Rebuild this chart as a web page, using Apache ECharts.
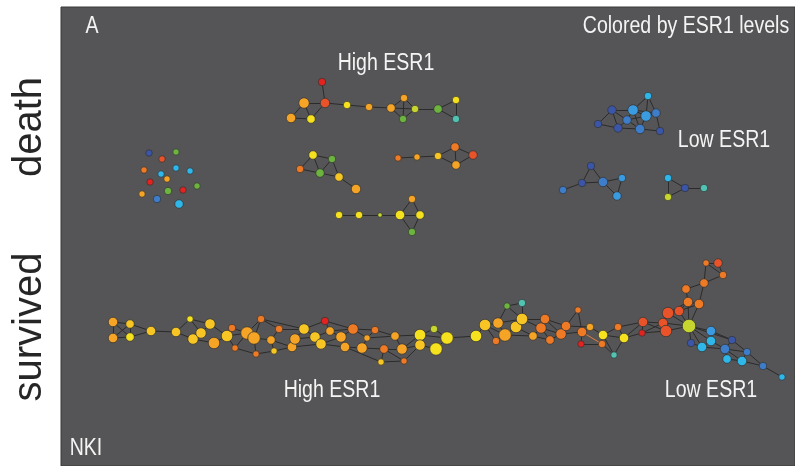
<!DOCTYPE html>
<html>
<head>
<meta charset="utf-8">
<script src="https://cdn.jsdelivr.net/npm/echarts@6/dist/echarts.min.js"></script>
<style>
  html, body { margin: 0; padding: 0; background: #fff; }
  #chart { width: 795px; height: 466px; }
</style>
</head>
<body>
<div id="chart"></div>
<script>
// ESR1 level classes, low (dark blue) -> high (red)
var levelColors = ['#3b56a9', '#3d7dca', '#3a9be0', '#2fb7ea', '#52c2b2', '#6cb33f',
  '#c7d52f', '#f6e11e', '#f7c624', '#f5a425', '#ee7a25', '#e8532a', '#e2231f'];

// each node: [x, y, weight, esr1Level]
// death: unconnected samples
var deathScatter = [
  [149, 153, 5, 0], [162, 159, 5, 11], [176, 152, 5, 5], [144, 170, 5, 10],
  [161, 174, 5, 3], [176, 168, 5, 3], [190, 171, 5, 3], [167, 179, 5, 9],
  [150, 182, 5, 12], [197, 186, 5, 5], [142, 194, 5, 9], [168, 191, 6, 5],
  [183, 190, 5, 12], [157, 199, 6, 1], [179, 204, 7, 3]
];
var deathScatterLinks = [];

// death: high ESR1 components
var deathHighA = [
  [322, 82, 6, 12], [304, 103, 9, 9], [325, 103, 8, 11], [291, 118, 8, 9],
  [311, 119, 7, 7], [347, 105, 6, 7], [369, 107, 6, 9], [391, 108, 7, 9],
  [404, 98, 6, 9], [403, 119, 6, 5], [415, 109, 6, 6], [438, 109, 7, 5],
  [456, 100, 6, 7], [456, 119, 6, 4]
];
var deathHighALinks = [[0, 2], [1, 2], [1, 3], [1, 4], [3, 4], [4, 2], [2, 5], [5, 6], [6, 7],
  [7, 8], [7, 9], [7, 10], [8, 9], [8, 10], [9, 10], [10, 11], [11, 12], [11, 13], [12, 13]];

var deathHighB = [
  [313, 155, 7, 7], [332, 159, 6, 5], [300, 169, 6, 10], [320, 173, 7, 5],
  [339, 177, 7, 8], [356, 189, 8, 9]
];
var deathHighBLinks = [[0, 1], [0, 2], [0, 3], [1, 3], [1, 4], [2, 3], [3, 4], [4, 5]];

var deathHighC = [
  [398, 158, 5, 10], [417, 157, 5, 9], [438, 156, 6, 8], [455, 147, 7, 10],
  [473, 155, 7, 11], [456, 165, 7, 9]
];
var deathHighCLinks = [[0, 1], [1, 2], [2, 3], [2, 5], [3, 4], [5, 4], [3, 5]];

var deathHighD = [
  [339, 215, 6, 7], [359, 215, 6, 7], [380, 215, 3, 6], [400, 215, 8, 7],
  [420, 215, 7, 7], [412, 199, 6, 9], [412, 232, 6, 5]
];
var deathHighDLinks = [[0, 1], [1, 2], [2, 3], [3, 5], [3, 4], [3, 6], [5, 4], [4, 6]];

// death: low ESR1 components
var deathLowA = [
  [648, 96, 6, 3], [612, 110, 7, 0], [633, 110, 9, 2], [656, 113, 7, 1],
  [646, 116, 9, 2], [627, 120, 7, 1], [598, 124, 6, 0], [618, 128, 7, 0],
  [640, 129, 8, 1], [660, 131, 6, 0]
];
var deathLowALinks = [[0, 2], [0, 3], [0, 4], [1, 2], [1, 6], [1, 7], [1, 5], [2, 5], [2, 3],
  [2, 4], [3, 4], [4, 8], [4, 5], [5, 7], [5, 8], [7, 8], [6, 7], [3, 9], [8, 9], [2, 8]];

var deathLowB = [
  [591, 166, 6, 0], [563, 190, 6, 1], [582, 183, 6, 0], [603, 182, 8, 1],
  [622, 178, 6, 2], [617, 196, 7, 2]
];
var deathLowBLinks = [[1, 2], [2, 0], [0, 3], [2, 3], [3, 4], [3, 5], [4, 5]];

var deathLowC = [[668, 178, 6, 3], [685, 188, 6, 0], [668, 197, 6, 6], [704, 188, 6, 4]];
var deathLowCLinks = [[0, 1], [0, 2], [2, 1], [1, 3]];

// survived: one long component
var survived = [
  [113, 322, 8, 9], [130, 324, 7, 8], [113, 338, 8, 9], [130, 337, 7, 7], [151, 331, 8, 8],
  [176, 332, 8, 8], [190, 319, 5, 7], [193, 339, 9, 8], [201, 333, 9, 8], [210, 324, 9, 8],
  [214, 343, 10, 9], [227, 336, 10, 8], [232, 328, 6, 10], [235, 348, 5, 10], [247, 333, 11, 9],
  [254, 338, 11, 9], [261, 319, 6, 10], [271, 340, 7, 9], [279, 329, 6, 10], [256, 354, 5, 10],
  [274, 351, 5, 8], [292, 347, 8, 9], [295, 339, 9, 9], [304, 329, 9, 8], [325, 321, 6, 12],
  [315, 337, 9, 8], [321, 344, 9, 8], [330, 331, 7, 9], [341, 337, 9, 9], [353, 329, 9, 10],
  [345, 347, 8, 9], [362, 348, 9, 9], [375, 330, 6, 10], [367, 338, 5, 9], [384, 349, 7, 10],
  [395, 336, 7, 9], [381, 362, 5, 8], [404, 361, 5, 10], [402, 349, 9, 9], [420, 335, 10, 7],
  [420, 345, 9, 8], [434, 329, 6, 6], [436, 349, 11, 7], [447, 338, 11, 7], [476, 336, 10, 7],
  [485, 325, 10, 8], [498, 323, 9, 9], [507, 306, 5, 5], [522, 303, 6, 4], [496, 341, 6, 10],
  [505, 335, 11, 9], [516, 327, 10, 8], [522, 319, 10, 8], [533, 336, 7, 9], [541, 328, 9, 10],
  [545, 319, 8, 10], [550, 340, 7, 10], [561, 334, 9, 10], [566, 326, 8, 10], [578, 310, 5, 10],
  [582, 332, 8, 10], [590, 327, 6, 9], [581, 344, 5, 12], [603, 335, 8, 7], [602, 344, 6, 10],
  [614, 355, 5, 4], [618, 327, 6, 10], [624, 338, 8, 7], [643, 322, 8, 11], [642, 333, 5, 12],
  [668, 313, 10, 11], [679, 311, 8, 11], [663, 323, 8, 11], [666, 331, 10, 11], [689, 326, 12, 6],
  [686, 289, 7, 10], [688, 302, 8, 10], [699, 304, 8, 10], [704, 283, 7, 10], [706, 263, 5, 10],
  [718, 263, 7, 11], [723, 275, 6, 10], [711, 331, 8, 2], [691, 343, 6, 0], [711, 341, 8, 3],
  [702, 347, 8, 3], [732, 340, 6, 0], [725, 349, 8, 1], [747, 352, 6, 1], [727, 359, 7, 3],
  [742, 361, 8, 3], [763, 366, 6, 1], [782, 377, 5, 3]
];
var survivedLinks = [
  [0, 1], [0, 2], [0, 3], [1, 2], [1, 3], [2, 3], [1, 4], [3, 4], [4, 5], [5, 6], [5, 7], [6, 9],
  [6, 8], [7, 8], [8, 9], [9, 11], [10, 11], [7, 10], [11, 12], [11, 13], [12, 14], [13, 14],
  [11, 14], [14, 15], [14, 16], [15, 16], [15, 17], [16, 18], [17, 18], [15, 19], [19, 20],
  [17, 20], [13, 19], [17, 21], [20, 21], [21, 22], [22, 23], [18, 23], [16, 23], [23, 24],
  [23, 25], [22, 25], [25, 26], [21, 26], [24, 27], [25, 27], [27, 28], [26, 28], [24, 29],
  [28, 29], [27, 29], [28, 30], [26, 30], [30, 31], [29, 32], [29, 33], [31, 33], [32, 33],
  [31, 34], [30, 36], [34, 36], [33, 35], [32, 35], [35, 38], [34, 38], [34, 37], [36, 37],
  [37, 40], [38, 40], [38, 39], [35, 39], [39, 41], [39, 40], [40, 42], [41, 43], [42, 43],
  [39, 43], [43, 44], [44, 45], [45, 46], [45, 49], [46, 47], [47, 48], [47, 52], [48, 52],
  [45, 50], [46, 50], [49, 50], [50, 51], [51, 52], [46, 52], [50, 53], [51, 53], [52, 54],
  [52, 55], [53, 54], [54, 56], [53, 56], [55, 57], [54, 57], [56, 57], [55, 58], [57, 58],
  [57, 60], [58, 59], [59, 60], [58, 61], [60, 61], [60, 62], [62, 64], [61, 63], [63, 64],
  [63, 65], [64, 65], [63, 66], [66, 67], [67, 65], [63, 67], [66, 68], [67, 69], [67, 68],
  [68, 69], [68, 72], [68, 73], [69, 73], [72, 73], [69, 72], [72, 70], [70, 71], [71, 74],
  [70, 74], [73, 74], [72, 74], [70, 76], [71, 76], [71, 77], [74, 76], [74, 77], [76, 77],
  [75, 76], [75, 78], [77, 78], [78, 81], [78, 79], [79, 80], [80, 81], [79, 81], [74, 82],
  [74, 83], [74, 84], [74, 85], [74, 86], [82, 84], [82, 86], [83, 85], [84, 85], [84, 87],
  [85, 87], [86, 87], [86, 88], [87, 88], [87, 89], [87, 90], [89, 90], [88, 90], [90, 91],
  [88, 91], [91, 92]
];
var orangeLinks = [[60, 64]];

var components = [
  ['ds', deathScatter, deathScatterLinks],
  ['ha', deathHighA, deathHighALinks],
  ['hb', deathHighB, deathHighBLinks],
  ['hc', deathHighC, deathHighCLinks],
  ['hd', deathHighD, deathHighDLinks],
  ['la', deathLowA, deathLowALinks],
  ['lb', deathLowB, deathLowBLinks],
  ['lc', deathLowC, deathLowCLinks],
  ['sv', survived, survivedLinks]
];

var nodes = [];
var links = [];
components.forEach(function (c) {
  var prefix = c[0];
  c[1].forEach(function (n, i) {
    nodes.push({
      name: prefix + i,
      value: [n[0], n[1]],
      symbolSize: n[2] + 1.5,
      itemStyle: { color: levelColors[n[3]] }
    });
  });
  c[2].forEach(function (l) {
    links.push({ source: prefix + l[0], target: prefix + l[1] });
  });
});
orangeLinks.forEach(function (l) {
  links.push({ source: 'sv' + l[0], target: 'sv' + l[1], lineStyle: { color: '#e8803a' } });
});

function label(text, x, y) {
  return {
    type: 'text', x: x, y: y, scaleX: 0.85, z: 100,
    style: {
      text: text, fill: '#f4f4f4', fontSize: 23,
      fontFamily: 'Liberation Sans, Arial, sans-serif',
      align: 'center', verticalAlign: 'middle'
    }
  };
}
function sideLabel(text, x, y) {
  return {
    type: 'text', x: x, y: y, rotation: Math.PI / 2, z: 100,
    style: {
      text: text, fill: '#262626', fontSize: 40,
      fontFamily: 'Liberation Sans, Arial, sans-serif',
      align: 'center', verticalAlign: 'middle'
    }
  };
}

var chart = echarts.init(document.getElementById('chart'), null, { renderer: 'canvas' });
var option = {
  animation: false,
  backgroundColor: '#ffffff',
  grid: {
    left: 61, top: 7, right: 0, bottom: 0,
    show: true,
    backgroundColor: '#555557',
    borderColor: '#3a3a3a',
    borderWidth: 1
  },
  xAxis: { type: 'value', min: 61, max: 795, show: false },
  yAxis: { type: 'value', min: 7, max: 466, inverse: true, show: false },
  graphic: [
    sideLabel('death', 30, 127),
    sideLabel('survived', 30, 327),
    label('A', 92, 27),
    label('Colored by ESR1 levels', 686, 27),
    label('High ESR1', 386, 64),
    label('Low ESR1', 724, 141),
    label('High ESR1', 332, 391),
    label('Low ESR1', 711, 391),
    label('NKI', 86, 449)
  ],
  series: [
    {
      type: 'graph',
      coordinateSystem: 'cartesian2d',
      layout: 'none',
      symbol: 'circle',
      data: nodes,
      links: links,
      itemStyle: {
        borderColor: 'rgba(50,50,50,0.9)',
        borderWidth: 0.8
      },
      lineStyle: {
        color: '#2b2b2b',
        width: 1,
        opacity: 1,
        curveness: 0
      },
      emphasis: { disabled: true }
    }
  ]
};
chart.setOption(option);
</script>
</body>
</html>
